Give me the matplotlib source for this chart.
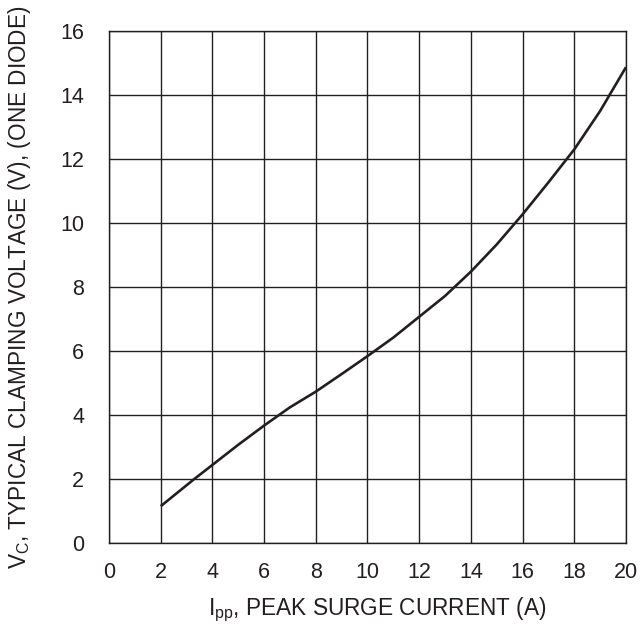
import numpy as np
import matplotlib
matplotlib.use("Agg")
import matplotlib.pyplot as plt

plt.rcParams['font.family'] = ['Liberation Sans', 'DejaVu Sans']
plt.rcParams['mathtext.default'] = 'regular'

# Curve
current = [2, 3.3, 4, 5, 6, 7, 8, 9, 10, 11, 12, 13, 14, 15, 16, 17, 18, 19, 20]
voltage = [1.15, 2.0, 2.44, 3.07, 3.67, 4.24, 4.73, 5.28, 5.84, 6.42, 7.07,
           7.72, 8.48, 9.33, 10.27, 11.27, 12.3, 13.5, 14.87]
x_ticks = [0, 2, 4, 6, 8, 10, 12, 14, 16, 18, 20]
y_ticks = [0, 2, 4, 6, 8, 10, 12, 14, 16]

fig = plt.figure(figsize=(6.44, 6.33), dpi=100)
ax = fig.add_axes([0.1693, 0.1422, 0.8027, 0.8088])

ax.plot(current, voltage, color='#231f20', linewidth=1.9, solid_capstyle='butt')

ax.set_xlim(0, 20)
ax.set_ylim(0, 16)
ax.set_xticks(x_ticks)
ax.set_yticks(y_ticks)
ax.tick_params(axis='both', length=0, labelsize=15.5, colors='#231f20')
ax.tick_params(axis='x', pad=14)
ax.tick_params(axis='y', pad=18)
ax.grid(True, color='#231f20', linewidth=1.0)
for s in ax.spines.values():
    s.set_color('#231f20')
    s.set_linewidth(1.0)

fig.text(0.585, 0.036, '$I_{pp}$, PEAK SURGE CURRENT (A)', ha='center', va='center',
         fontsize=16.3, color='#231f20')
fig.text(0.031, 0.547, '$V_C$, TYPICAL CLAMPING VOLTAGE (V), (ONE DIODE)', ha='center',
         va='center', rotation=90, fontsize=16.3, color='#231f20')

fig.savefig('out.png', dpi=100)
